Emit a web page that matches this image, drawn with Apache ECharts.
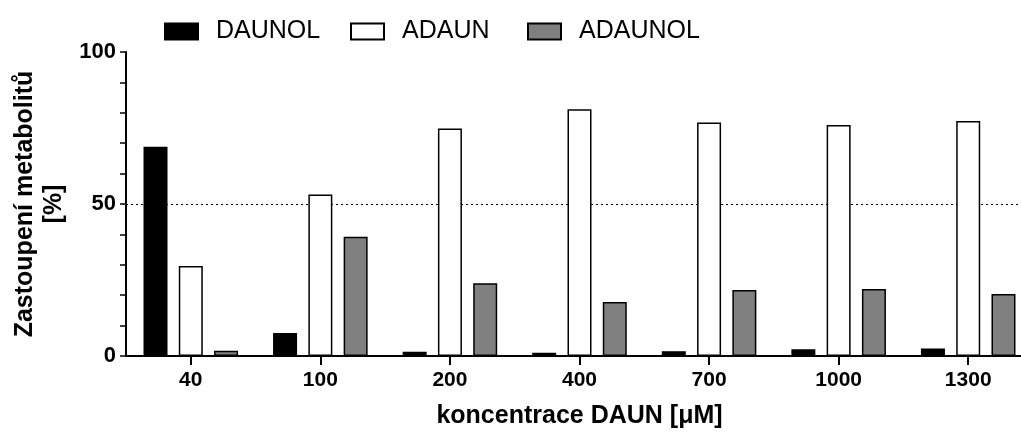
<!DOCTYPE html>
<html>
<head>
<meta charset="utf-8">
<script src="https://cdn.jsdelivr.net/npm/echarts@6/dist/echarts.min.js"></script>
<style>
  html, body { margin: 0; padding: 0; background: #fff; }
  #chart { width: 1021px; height: 432px; }
</style>
</head>
<body>
<div id="chart"></div>
<script>
// Concentrations of DAUN (µM) on the x axis
const categories = ['40', '100', '200', '400', '700', '1000', '1300'];
// Share of each metabolite in percent
const daunol  = [68.8, 7.6, 1.4, 1.1, 1.6, 2.2, 2.5];
const adaun   = [29.6, 53.1, 74.8, 81.2, 76.8, 76.0, 77.3];
const adaunol = [1.7, 39.2, 23.9, 17.8, 21.7, 22.0, 20.4];
const seriesNames = ['DAUNOL', 'ADAUN', 'ADAUNOL'];
const yTickLabels = [0, 50, 100];
const referenceLevel = 50;

const FONT = '"Liberation Sans", Arial, sans-serif';
const legendLeft = [164, 350, 527];

const chart = echarts.init(document.getElementById('chart'), null, { renderer: 'canvas' });

const barStyle = (fill) => ({ color: fill, borderColor: '#000', borderWidth: 1.5 });

// one legend block per series so each key sits at its own spot
const legends = seriesNames.map((name, i) => ({
  left: legendLeft[i],
  top: 19,
  padding: 0,
  icon: 'rect',
  itemWidth: 33,
  itemHeight: 16,
  textStyle: { fontSize: 25, color: '#000', fontFamily: FONT, padding: [0, 0, 0, 13] },
  data: [name]
}));

chart.setOption({
  animation: false,
  backgroundColor: '#fff',
  textStyle: { fontFamily: FONT },
  legend: legends,
  grid: {
    left: 126, right: -12, top: 52, bottom: 76,
    // generous outer bounds so the plot keeps its exact rectangle
    outerBounds: { left: -200, right: -200, top: -200, bottom: -200 }
  },
  xAxis: {
    type: 'category',
    data: categories,
    axisLine: { show: true, lineStyle: { color: '#000', width: 2 } },
    axisTick: { show: true, alignWithLabel: true, length: 9, lineStyle: { color: '#000', width: 2 } },
    axisLabel: {
      margin: 14,
      fontSize: 21,
      fontWeight: 'bold',
      color: '#000',
      fontFamily: FONT
    },
    name: 'koncentrace DAUN [\u03bcM]',
    nameLocation: 'middle',
    nameGap: 48,
    nameTextStyle: { fontSize: 25, fontWeight: 'bold', color: '#000', fontFamily: FONT }
  },
  yAxis: {
    type: 'value',
    min: 0,
    max: 100,
    interval: 10,
    splitLine: { show: false },
    axisLine: { show: true, lineStyle: { color: '#000', width: 2 } },
    axisTick: { show: true, length: 6, lineStyle: { color: '#000', width: 1.5 } },
    axisLabel: {
      margin: 10,
      fontSize: 22,
      fontWeight: 'bold',
      color: '#000',
      fontFamily: FONT,
      formatter: v => (yTickLabels.indexOf(v) >= 0 ? String(v) : '')
    },
    name: 'Zastoupení metabolitů\n[%]',
    nameLocation: 'middle',
    nameRotate: 90,
    nameGap: 50,
    nameTextStyle: { fontSize: 25, fontWeight: 'bold', color: '#000', fontFamily: FONT, lineHeight: 29, align: 'center' }
  },
  series: [
    {
      name: seriesNames[0], type: 'bar', z: 3,
      barWidth: 24, barGap: '47%',
      itemStyle: barStyle('#000'),
      data: daunol,
      markLine: {
        silent: true, symbol: 'none', z: 1,
        label: { show: false },
        lineStyle: { color: '#000', type: [2, 3], width: 1.2 },
        data: [{ yAxis: referenceLevel }]
      }
    },
    {
      name: seriesNames[1], type: 'bar', z: 3,
      barWidth: 24, barGap: '47%',
      itemStyle: barStyle('#fff'),
      data: adaun
    },
    {
      name: seriesNames[2], type: 'bar', z: 3,
      barWidth: 24, barGap: '47%',
      itemStyle: barStyle('#808080'),
      data: adaunol
    }
  ]
});
</script>
</body>
</html>
